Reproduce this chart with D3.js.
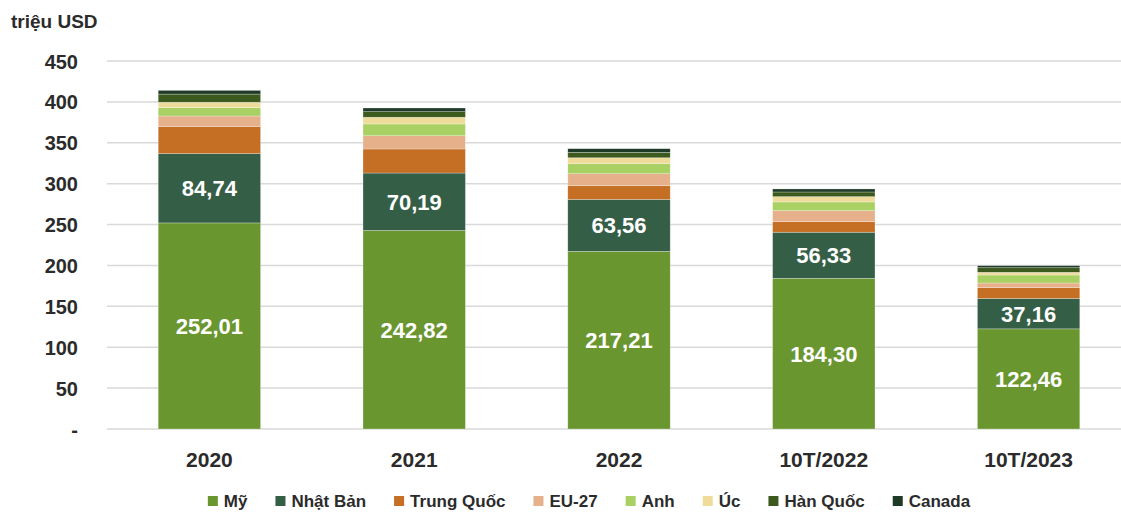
<!DOCTYPE html>
<html>
<head>
<meta charset="utf-8">
<script src="https://cdn.jsdelivr.net/npm/d3@7"></script>
<style>
  html, body { margin: 0; padding: 0; background: #ffffff; }
  svg { display: block; font-family: "Liberation Sans", Arial, sans-serif; }
</style>
</head>
<body>
<svg id="chart" width="1121" height="513"></svg>
<script>
// ---- Data ----
const categories = ["2020", "2021", "2022", "10T/2022", "10T/2023"];
const seriesNames = ["Mỹ", "Nhật Bản", "Trung Quốc", "EU-27", "Anh", "Úc", "Hàn Quốc", "Canada"];
const my        = [252.01, 242.82, 217.21, 184.30, 122.46];
const nhatBan   = [84.74, 70.19, 63.56, 56.33, 37.16];
const trungQuoc = [33.0, 29.4, 16.7, 12.9, 13.2];
const eu27      = [13.0, 16.2, 14.7, 13.5, 5.7];
const anh       = [10.2, 14.4, 12.2, 10.6, 9.8];
const uc        = [6.6, 8.2, 7.3, 6.5, 3.3];
const hanQuoc   = [10.0, 6.8, 6.6, 5.7, 5.6];
const canada    = [4.5, 4.5, 4.5, 3.7, 2.5];
const yTicks = [0, 50, 100, 150, 200, 250, 300, 350, 400, 450];
const yUnit = "triệu USD";
const labelledSeries = ["Mỹ", "Nhật Bản"];

const seriesValues = [my, nhatBan, trungQuoc, eu27, anh, uc, hanQuoc, canada];
const colors = ["#6a962f", "#355e47", "#c46f24", "#e6b08a", "#a9d063", "#f0dc9a", "#3d5a1e", "#1f3a26"];

// ---- Build table ----
const table = categories.map((c, i) => {
  const row = { cat: c };
  seriesNames.forEach((s, j) => row[s] = seriesValues[j][i]);
  return row;
});
const stacked = d3.stack().keys(seriesNames)(table);

const svg = d3.select("#chart");
const textColor = "#2b2b2b";

const x = d3.scaleBand().domain(categories).range([107, 1131]).paddingInner(0.5).paddingOuter(0.25);
const y = d3.scaleLinear().domain([0, 450]).range([429, 61]);

// Gridlines
svg.append("g").selectAll("line").data(yTicks).join("line")
  .attr("x1", 107).attr("x2", 1121)
  .attr("y1", d => y(d)).attr("y2", d => y(d))
  .attr("stroke", "#d9d9d9").attr("stroke-width", 1.5);

// Y axis labels
const yAxis = d3.axisLeft(y).tickValues(yTicks).tickSize(0).tickPadding(0)
  .tickFormat(d => d === 0 ? "-" : d3.format("d")(d));
const gy = svg.append("g").attr("transform", "translate(78,0)").call(yAxis);
gy.select(".domain").remove();
gy.selectAll("text").attr("font-size", 20).attr("font-weight", "bold").attr("fill", textColor)
  .attr("font-family", "Liberation Sans, Arial, sans-serif").attr("dy", "0.35em");

// Unit title
svg.append("text").attr("x", 11).attr("y", 28).text(yUnit)
  .attr("font-size", 19).attr("font-weight", "bold").attr("fill", textColor);

// Bars
svg.append("g").selectAll("g").data(stacked).join("g")
  .attr("fill", (d, i) => colors[i])
  .selectAll("rect").data(d => d).join("rect")
  .attr("x", d => x(d.data.cat))
  .attr("width", x.bandwidth())
  .attr("y", d => y(d[1]))
  .attr("height", d => y(d[0]) - y(d[1]))
  .attr("stroke", "rgba(255,255,255,0.45)").attr("stroke-width", 0.6);

// Value labels
const fmt = v => d3.format(".2f")(v).replace(".", ",");
stacked.filter(s => labelledSeries.includes(s.key)).forEach(s => {
  svg.append("g").selectAll("text").data(s).join("text")
    .attr("x", d => x(d.data.cat) + x.bandwidth() / 2)
    .attr("y", d => (y(d[0]) + y(d[1])) / 2)
    .attr("dy", "0.36em")
    .attr("text-anchor", "middle")
    .attr("font-size", 22).attr("font-weight", "bold").attr("fill", "#ffffff")
    .text(d => fmt(d.data[s.key]));
});

// X axis labels
const xAxis = d3.axisBottom(x).tickSize(0).tickPadding(0);
const gx = svg.append("g").attr("transform", "translate(0,467)").call(xAxis);
gx.select(".domain").remove();
gx.selectAll("text").attr("font-size", 21).attr("font-weight", "bold").attr("fill", textColor)
  .attr("font-family", "Liberation Sans, Arial, sans-serif").attr("dy", 0);

// Legend
const legend = svg.append("g");
const items = legend.selectAll("g").data(seriesNames).join("g");
items.append("rect").attr("width", 10).attr("height", 10).attr("y", -5).attr("fill", (d, i) => colors[i]);
items.append("text").attr("x", 16).attr("dy", "0.36em").text(d => d)
  .attr("font-size", 17).attr("font-weight", "bold").attr("fill", textColor);
let cx = 0;
items.each(function () {
  const w = d3.select(this).select("text").node().getComputedTextLength();
  d3.select(this).attr("data-x", cx);
  cx += 16 + w + 28;
});
const total = cx - 28;
const startX = 589 - total / 2;
items.attr("transform", function () { return `translate(${startX + (+this.getAttribute("data-x"))},501)`; });
</script>
</body>
</html>
